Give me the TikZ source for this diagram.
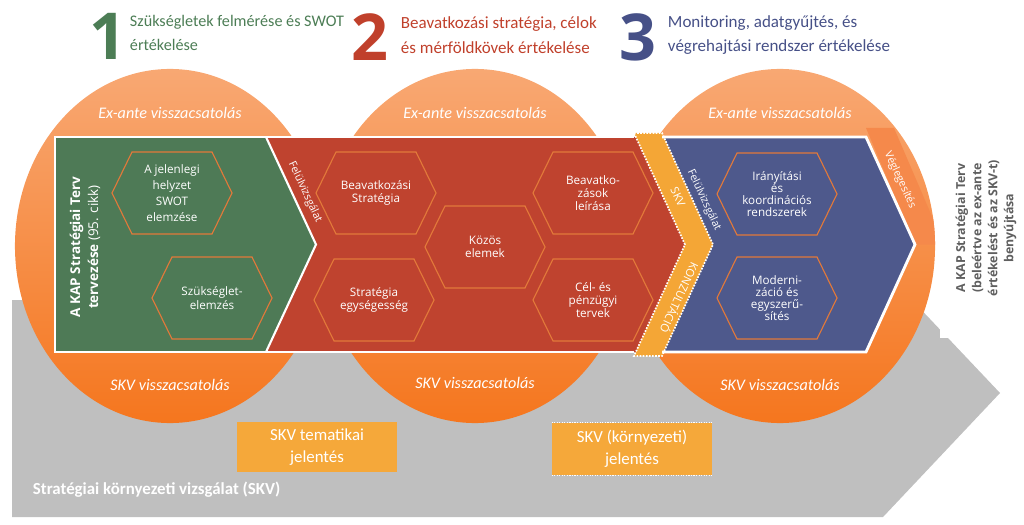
\documentclass[tikz,border=0pt]{standalone}
\usepackage{fontspec}
\setmainfont{Open Sans}
\newfontfamily\narrowfont{Carlito}
\usetikzlibrary{shapes.geometric,calc}
\definecolor{greencol}{RGB}{78,122,86}
\definecolor{redcol}{RGB}{191,67,47}
\definecolor{bluecol}{RGB}{78,89,140}
\definecolor{bandcol}{RGB}{244,166,54}
\definecolor{stripcol}{RGB}{245,137,75}
\definecolor{circtop}{RGB}{248,168,115}
\definecolor{circbot}{RGB}{245,118,30}
\definecolor{hexcol}{RGB}{226,121,58}
\definecolor{graycol}{RGB}{191,191,191}
\definecolor{boxcol}{RGB}{245,168,58}
\definecolor{ttlgreen}{RGB}{76,125,85}
\definecolor{ttlred}{RGB}{192,64,43}
\definecolor{ttlblue}{RGB}{70,80,135}
\definecolor{sidegray}{RGB}{95,95,95}

\begin{document}
\begin{tikzpicture}[x=0.025cm,y=-0.025cm,
  roundpart/.style={ellipse, minimum width=7.75cm, minimum height=8.85cm, inner sep=0pt, top color=circtop, bottom color=circbot},
  hexline/.style={draw=hexcol, line width=0.8pt},
  hextext/.style={text=white, align=center, font=\fontsize{8.3}{9.5}\selectfont},
  feedback/.style={text=white, font=\narrowfont\itshape\fontsize{11.5}{12}\selectfont},
  sidetext/.style={text=white, font=\fontsize{7.6}{8}\selectfont},
  report/.style={fill=boxcol, text=white, align=center, minimum width=4cm, minimum height=1.25cm, font=\narrowfont\fontsize{12}{15.5}\selectfont},
  bignum/.style={font=\bfseries\fontsize{46}{46}\selectfont},
  title/.style={anchor=west, align=left, font=\narrowfont\fontsize{12.1}{17.5}\selectfont}]

\useasboundingbox (0,0) rectangle (1024,525);

% background arrow (SKV)
\fill[graycol] (12,300) -- (912,300) -- (1000,393) -- (883,517) -- (12,517) -- cycle;

% phases
\node[roundpart] (c1) at (170,246) {};
\node[roundpart] (c2) at (475,246) {};
\node[roundpart] (c3) at (780,246) {};

\begin{scope}
  \clip (780,246) ellipse [x radius=3.875cm, y radius=4.425cm];
  \fill[stripcol] (866,128) -- (894,128) -- (944,244.5) -- (915,244.5) -- cycle;
\end{scope}

% banner
\fill[redcol] (262,137) -- (640,137) -- (690,244.5) -- (640,352) -- (262,352) -- cycle;
\fill[bluecol] (660,137) -- (866,137) -- (915,244.5) -- (866,352) -- (660,352) -- (710,244.5) -- cycle;
\fill[bandcol] (634,133) -- (662,133) -- (713,244.5) -- (662,356) -- (634,356) -- (685,244.5) -- cycle;
\draw[white, densely dotted, line width=1.2pt] (634,133) -- (662,133) -- (713,244.5) -- (662,356) -- (634,356) -- (685,244.5) -- cycle;
\fill[greencol] (55,137) -- (266,137) -- (316,244.5) -- (266,352) -- (55,352) -- cycle;
\draw[white, line width=1.5pt] (266,137) -- (316,244.5) -- (266,352);
\draw[white, line width=2pt] (634,137) -- (55,137) -- (55,352) -- (634,352);
\draw[white, line width=2pt] (662,137) -- (866,137) -- (915,244.5) -- (866,352) -- (662,352);

% titles
\node[bignum, text=ttlgreen] (n1) at (108,36) {1};
\node[title, text=ttlgreen, font=\narrowfont\fontsize{11.5}{17.5}\selectfont] (t1) at (125,33) {Szükségletek felmérése és SWOT\\értékelése};
\node[bignum, text=ttlred] (n2) at (370,37) {2};
\node[title, text=ttlred] (t2) at (396,35) {Beavatkozási stratégia, célok\\és mérföldkövek értékelése};
\node[bignum, text=ttlblue] (n3) at (638,37) {3};
\node[title, text=ttlblue] (t3) at (663,35) {Monitoring, adatgyűjtés, és\\végrehajtási rendszer értékelése};

% feedback labels
\node[feedback] (ea1) at (170,113) {Ex-ante visszacsatolás};
\node[feedback] (ea2) at (475,113) {Ex-ante visszacsatolás};
\node[feedback] (ea3) at (780,113) {Ex-ante visszacsatolás};
\node[feedback] (sk1) at (170,385) {SKV visszacsatolás};
\node[feedback] (sk2) at (475,383) {SKV visszacsatolás};
\node[feedback] (sk3) at (780,385) {SKV visszacsatolás};

% hexagons
\node[hextext, font=\fontsize{8.3}{11.3}\selectfont] (h1) at (172,193) {A jelenlegi\\helyzet\\SWOT\\elemzése};
\node[hextext] (h2) at (212,298) {Szükséglet-\\elemzés};
\node[hextext] (h3) at (376,193) {Beavatkozási\\Stratégia};
\node[hextext] (h4) at (374,300) {Stratégia\\egységesség};
\node[hextext] (h5) at (485,247) {Közös\\elemek};
\node[hextext] (h6) at (593,193) {Beavatko-\\zások\\leírása};
\node[hextext] (h7) at (593,300) {Cél- és\\pénzügyi\\tervek};
\node[hextext, font=\fontsize{8.3}{8.6}\selectfont] (h8) at (777,194) {Irányítási\\és\\koordinációs\\rendszerek};
\node[hextext, font=\fontsize{8.3}{8.6}\selectfont] (h9) at (777,298) {Moderni-\\záció és\\egyszerű-\\sítés};
\foreach \h in {h1,h2,h3,h4,h5,h6,h7,h8,h9}
  \draw[hexline] ($(\h)+(-60,0)$) -- ++(20,-41) -- ++(80,0) -- ++(20,41) -- ++(-20,41) -- ++(-80,0) -- cycle;

% rotated labels
\node[rotate=90, align=center, text=white, font=\fontsize{9.6}{12.8}\selectfont] (plan) at (85,247) {\textbf{A KAP Stratégiai Terv}\\\textbf{tervezése} (95. cikk)};
\node[sidetext, rotate=-65] (rev1) at (305,192) {Felülvizsgálat};
\node[sidetext, rotate=-65] (rev2) at (704,200) {Felülvizsgálat};
\node[sidetext, rotate=-65, font=\fontsize{8}{8}\selectfont] (skv) at (678,197) {SKV};
\node[sidetext, rotate=-115, font=\fontsize{8}{8}\selectfont] (konz) at (680,298) {KONZULTÁCIÓ};
\node[sidetext, rotate=-65] (final) at (900,180) {Véglegesítés};

% submission
\fill[white] (940,140) rectangle (1024,338);
\node[rotate=90, align=center, text=sidegray, font=\bfseries\fontsize{8.8}{11.4}\selectfont] (submit) at (986,228) {A KAP Stratégiai Terv\\(beleértve az ex-ante\\értékelést és az SKV-t)\\benyújtása};

% reports
\node[report] (rep1) at (317,447) {SKV tematikai\\jelentés};
\node[report, minimum height=1.3cm] (rep2) at (632,449) {SKV (környezeti)\\jelentés};
\draw[white, densely dotted, line width=0.8pt] (rep2.north west) -- (rep2.north east);
\draw[white, densely dotted, line width=0.8pt] (rep2.south west) -- (rep2.south east);

\node[anchor=west, text=white, font=\narrowfont\bfseries\fontsize{12}{13}\selectfont] (skvall) at (28,490) {Stratégiai környezeti vizsgálat (SKV)};

\end{tikzpicture}
\end{document}
